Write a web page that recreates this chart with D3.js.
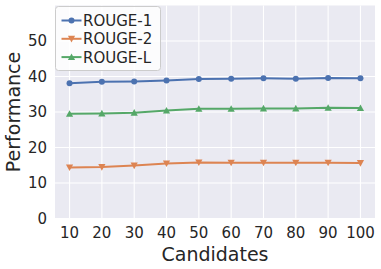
<!DOCTYPE html>
<meta charset="UTF-8">
<head>
<script src="https://cdn.jsdelivr.net/npm/d3@7"></script>
<style>
body { margin: 0; background: #fff; }
text { font-family: "DejaVu Sans", sans-serif; fill: #262626; }
</style>
</head>
<body>
<div id="chart"></div>
<script>
// chart data
var candidates = [10, 20, 30, 40, 50, 60, 70, 80, 90, 100];
var rouge1 = [38.1, 38.5, 38.6, 38.9, 39.3, 39.4, 39.5, 39.4, 39.6, 39.5];
var rouge2 = [14.4, 14.5, 14.9, 15.5, 15.8, 15.7, 15.7, 15.7, 15.7, 15.6];
var rougeL = [29.5, 29.6, 29.8, 30.4, 30.9, 30.9, 31.0, 31.0, 31.2, 31.1];
var yTicks = [0, 10, 20, 30, 40, 50];
var seriesNames = ["ROUGE-1", "ROUGE-2", "ROUGE-L"];

var series = [
  {name: seriesNames[0], values: rouge1, color: "#4C72B0", marker: "circle"},
  {name: seriesNames[1], values: rouge2, color: "#DD8452", marker: "down"},
  {name: seriesNames[2], values: rougeL, color: "#55A868", marker: "up"}
];

var W = 381, H = 269;
var margin = {top: 5.5, right: 6, bottom: 50.5, left: 55};
var width = W - margin.left - margin.right,
    height = H - margin.top - margin.bottom;

var svg = d3.select("#chart").append("svg")
    .attr("width", W)
    .attr("height", H);

var g = svg.append("g")
    .attr("transform", "translate(" + margin.left + "," + margin.top + ")");

var x = d3.scaleLinear().domain([5.5, 104.5]).range([0, width]);
var y = d3.scaleLinear().domain([0, 60]).range([height, 0]);

// background
g.append("rect")
    .attr("width", width)
    .attr("height", height)
    .attr("fill", "#EAEAF2");

// grid
g.selectAll("line.vgrid")
    .data(candidates)
  .enter().append("line")
    .attr("x1", function(d) { return x(d); })
    .attr("x2", function(d) { return x(d); })
    .attr("y1", 0).attr("y2", height)
    .attr("stroke", "#fff").attr("stroke-width", 1.1);

g.selectAll("line.hgrid")
    .data(yTicks)
  .enter().append("line")
    .attr("x1", 0).attr("x2", width)
    .attr("y1", function(d) { return y(d); })
    .attr("y2", function(d) { return y(d); })
    .attr("stroke", "#fff").attr("stroke-width", 1.1);

// tick labels
g.selectAll("text.xt")
    .data(candidates)
  .enter().append("text")
    .attr("x", function(d) { return x(d); })
    .attr("y", height + 19.5)
    .attr("text-anchor", "middle")
    .attr("font-size", 15)
    .text(function(d) { return d; });

g.selectAll("text.yt")
    .data(yTicks)
  .enter().append("text")
    .attr("x", -8)
    .attr("y", function(d) { return y(d); })
    .attr("dy", "0.36em")
    .attr("text-anchor", "end")
    .attr("font-size", 15)
    .text(function(d) { return d; });

// axis labels
svg.append("text")
    .attr("x", margin.left + width / 2)
    .attr("y", H - 8.5)
    .attr("text-anchor", "middle")
    .attr("font-size", 19)
    .text("Candidates");

svg.append("text")
    .attr("transform", "translate(19.5," + (margin.top + height / 2) + ") rotate(-90)")
    .attr("text-anchor", "middle")
    .attr("font-size", 19)
    .text("Performance");

// markers
function drawMarker(sel, type, color) {
  if (type === "circle") {
    sel.append("circle").attr("r", 3).attr("fill", color);
  } else {
    var s = type === "up" ? -1 : 1;
    sel.append("path")
        .attr("d", "M-3.6," + (-3 * s) + "L3.6," + (-3 * s) + "L0," + (3.6 * s) + "Z")
        .attr("fill", color);
  }
}

var line = d3.line()
    .x(function(d, i) { return x(candidates[i]); })
    .y(function(d) { return y(d); });

series.forEach(function(s) {
  g.append("path")
      .datum(s.values)
      .attr("fill", "none")
      .attr("stroke", s.color)
      .attr("stroke-width", 2)
      .attr("d", line);
  s.values.forEach(function(v, i) {
    var m = g.append("g")
        .attr("transform", "translate(" + x(candidates[i]) + "," + y(v) + ")");
    drawMarker(m, s.marker, s.color);
  });
});

// legend
var lg = svg.append("g").attr("transform", "translate(55.5,6.5)");
lg.append("rect")
    .attr("width", 105)
    .attr("height", 64)
    .attr("rx", 3)
    .attr("fill", "#fff")
    .attr("fill-opacity", 0.85)
    .attr("stroke", "#cccccc")
    .attr("stroke-width", 1);

series.forEach(function(s, i) {
  var row = lg.append("g").attr("transform", "translate(0," + (14 + i * 18.3) + ")");
  row.append("line")
      .attr("x1", 6).attr("x2", 26)
      .attr("stroke", s.color).attr("stroke-width", 2);
  var m = row.append("g").attr("transform", "translate(16,0)");
  drawMarker(m, s.marker, s.color);
  row.append("text")
      .attr("x", 27.5)
      .attr("dy", "0.36em")
      .attr("font-size", 15)
      .text(s.name);
});
</script>
</body>
